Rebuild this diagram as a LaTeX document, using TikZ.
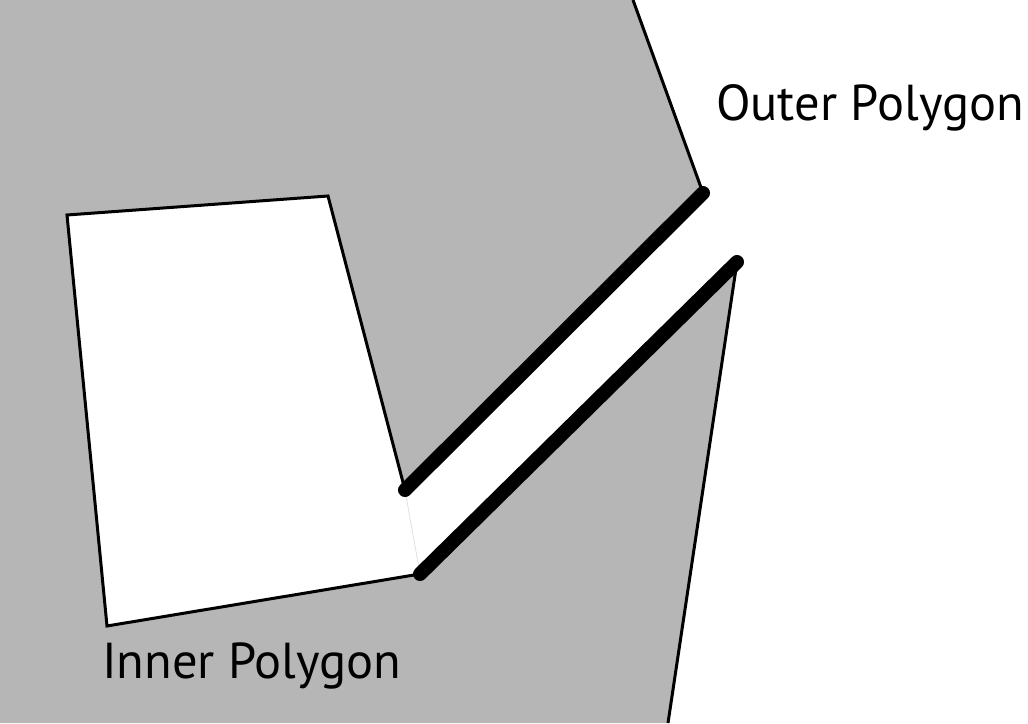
\documentclass[tikz,border=0pt]{standalone}
\usepackage{fontspec}
\setmainfont{PT Sans}
\definecolor{fillgray}{RGB}{181,182,181}
\begin{document}
\begin{tikzpicture}[x=1pt,y=-1pt,
  thinedge/.style={line width=3pt,line join=miter},
  thickedge/.style={line width=14pt,line cap=round},
  lbl/.style={font=\fontsize{50.5}{50.5}\selectfont,anchor=base west,inner sep=0pt}]
\useasboundingbox (0,0) rectangle (1028,723);
\coordinate (TL) at (0,0);
\coordinate (BL) at (0,723);
\coordinate (O1) at (633,0);
\coordinate (O2) at (703,193);
\coordinate (I1) at (405,490);
\coordinate (I2) at (328,196);
\coordinate (I3) at (67,215);
\coordinate (I4) at (107,626);
\coordinate (I5) at (420,574);
\coordinate (O3) at (737,262);
\coordinate (O4) at (668,723);
\fill[fillgray] (TL) -- (O1) -- (O2) -- (I1) -- (I2) -- (I3) -- (I4) -- (I5) -- (O3) -- (O4) -- (BL) -- cycle;
\draw[black!12,line width=0.8pt] (I1) -- (I5);
\draw[thinedge] (O1) -- (O2);
\draw[thinedge] (I1) -- (I2) -- (I3) -- (I4) -- (I5);
\draw[thinedge] (O3) -- (O4);
\draw[thickedge] (O2) -- (I1);
\draw[thickedge] (I5) -- (O3);
\node[lbl] (outer) at (716,120) {Outer Polygon};
\node[lbl] (inner) at (102,678) {Inner Polygon};
\end{tikzpicture}
\end{document}
